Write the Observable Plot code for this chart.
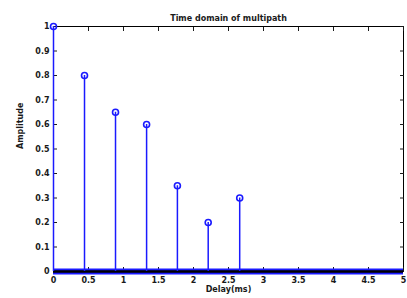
<!DOCTYPE html>
<html><head><meta charset="utf-8">
<script src="https://cdn.jsdelivr.net/npm/d3@7"></script>
<script src="https://cdn.jsdelivr.net/npm/@observablehq/plot@0.6"></script>
<style>body{margin:0;background:#fff} svg{display:block}</style>
</head><body><div id="chart"></div>
<script>
const delays = [0, 0.443, 0.886, 1.33, 1.77, 2.21, 2.66];
const amplitudes = [1, 0.8, 0.65, 0.6, 0.35, 0.2, 0.3];
const zeroSpan = [0, 5];
const xTicks = [0, 0.5, 1, 1.5, 2, 2.5, 3, 3.5, 4, 4.5, 5];
const yTicks = [0, 0.1, 0.2, 0.3, 0.4, 0.5, 0.6, 0.7, 0.8, 0.9, 1];
const title = "Time domain of multipath";
const xLabel = "Delay(ms)";
const yLabel = "Amplitude";

const data = delays.map((d, i) => ({delay: d, amp: amplitudes[i]}));
const fmt = d => String(d);
const blue = "#1a1aff";

const plot = Plot.plot({
  width: 407, height: 298,
  marginLeft: 53, marginRight: 4, marginTop: 26, marginBottom: 27,
  style: {fontFamily: "DejaVu Sans", fontSize: "8px", fontWeight: "bold", color: "#1a1a1a", background: "#fff"},
  x: {domain: [0, 5]},
  y: {domain: [0, 1]},
  marks: [
    Plot.frame({stroke: "#000"}),
    Plot.axisX({ticks: xTicks, tickSize: -4, tickPadding: 10, tickFormat: fmt, label: null}),
    Plot.axisX({anchor: "top", ticks: xTicks, tickSize: -4, tickFormat: () => "", label: null}),
    Plot.axisY({ticks: yTicks, tickSize: -4, tickPadding: 8, tickFormat: fmt, label: null}),
    Plot.axisY({anchor: "right", ticks: yTicks, tickSize: -4, tickFormat: () => "", label: null}),
    Plot.ruleY([0], {x1: zeroSpan[0], x2: zeroSpan[1], stroke: blue, strokeWidth: 6}),
    Plot.ruleY([0], {x1: zeroSpan[0], x2: zeroSpan[1], stroke: "#000", strokeWidth: 2.5}),
    Plot.ruleX(data, {x: "delay", y1: 0, y2: "amp", stroke: blue, strokeWidth: 1.5}),
    Plot.dot(data, {x: "delay", y: "amp", r: 3, stroke: blue, strokeWidth: 1.6, fill: "none"}),
    Plot.text([title], {frameAnchor: "top", dy: -11, fontSize: 8, fontWeight: "bold", fill: "#1a1a1a"}),
    Plot.text([xLabel], {frameAnchor: "bottom", dy: 20, fontSize: 8, fontWeight: "bold", fill: "#1a1a1a"}),
    Plot.text([yLabel], {frameAnchor: "left", dx: -33, rotate: -90, fontSize: 8, fontWeight: "bold", fill: "#1a1a1a"})
  ]
});
document.getElementById("chart").append(plot);
</script>
</body></html>
